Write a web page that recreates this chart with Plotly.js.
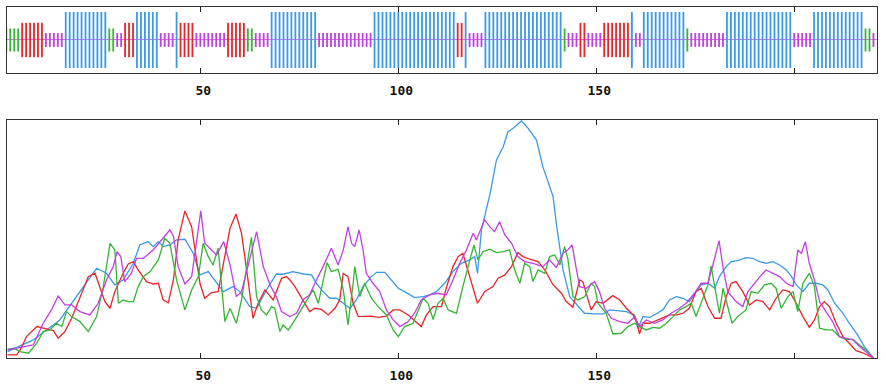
<!DOCTYPE html>
<html>
<head>
<meta charset="utf-8">
<script src="https://cdn.plot.ly/plotly-3.0.1.min.js"></script>
<style>html,body{margin:0;padding:0;background:#fff;}#chart{width:886px;height:391px;}</style>
</head>
<body>
<div id="chart"></div>
<script>
// Secondary structure per residue (runs): h = helix, e = extended strand, t = turn, c = coil
const ssRuns = [
  ['t',4],['e',6],['c',5],['h',11],['t',2],['c',2],['e',3],['h',6],['c',4],['h',1],
  ['e',4],['c',8],['e',5],['t',2],['c',4],['h',12],['c',14],['h',21],['e',2],['h',1],
  ['c',4],['h',20],['t',1],['c',3],['e',2],['c',4],['e',7],['h',1],['c',2],['h',11],
  ['t',1],['c',9],['h',17],['c',5],['h',13],['t',2],['c',1]
];
const stateOrder = ['h','e','t','c'];
const stateColors = {h:'#3a9ae6', e:'#e8252a', t:'#35b535', c:'#c23fe2'};
const stateHalfHeight = {h:0.85, e:0.52, t:0.35, c:0.21};

// Score profiles (x = residue, y = score)
const helixRes = [1.3,7.8,14.5,19.6,23.8,26.3,28.4,30.5,33.1,34.7,
  36.8,38.1,39.4,40.6,42.3,44.0,46.1,48.2,49.9,52.0,
  54.1,55.8,58.3,60.0,62.5,64.2,66.7,69.2,70.9,73.4,
  76.0,78.1,79.3,81.0,82.7,84.4,86.1,87.8,89.4,91.1,
  93.2,94.5,96.6,98.3,100.0,101.6,104.1,106.3,107.9,109.6,
  111.7,113.8,115.9,118.0,119.3,120.0,121.0,123.1,124.8,126.5,
  127.7,129.0,131.1,132.8,134.9,136.5,139.1,139.9,141.6,143.3,
  145.4,147.0,149.6,151.7,153.4,155.0,157.6,159.7,160.5,161.8,
  163.5,165.1,166.8,168.5,170.2,171.9,173.5,175.2,176.5,178.2,
  179.9,181.1,182.8,184.1,185.7,187.8,189.5,191.2,192.9,194.6,
  196.3,198.0,199.2,200.5,202.2,203.8,205.5,207.2,208.5,210.2,
  212.3,213.9,216.0,217.7,219.4,220];
const helixScore = [0.027,0.076,0.160,0.279,0.377,0.356,0.307,0.328,0.398,0.475,
  0.489,0.468,0.489,0.468,0.475,0.496,0.499,0.440,0.349,0.363,
  0.314,0.279,0.300,0.279,0.216,0.209,0.286,0.353,0.352,0.363,
  0.353,0.349,0.314,0.279,0.251,0.251,0.230,0.209,0.244,0.300,
  0.342,0.360,0.360,0.328,0.293,0.279,0.254,0.258,0.265,0.279,
  0.314,0.363,0.398,0.412,0.426,0.356,0.538,0.685,0.832,0.888,
  0.951,0.965,0.996,0.965,0.916,0.804,0.678,0.566,0.370,0.258,
  0.216,0.188,0.185,0.185,0.202,0.199,0.195,0.181,0.125,0.174,
  0.171,0.185,0.202,0.244,0.258,0.251,0.237,0.279,0.307,0.314,
  0.293,0.342,0.384,0.405,0.409,0.422,0.419,0.405,0.398,0.405,
  0.391,0.370,0.345,0.307,0.279,0.314,0.314,0.307,0.286,0.230,
  0.188,0.146,0.097,0.048,0.013,0.0];

const strandRes = [1.3,3.6,4.5,6.1,8.7,10.3,12.9,14.1,15.8,17.5,
  19.6,21.7,23.4,24.6,25.9,27.2,28.4,30.5,31.8,33.1,
  34.3,36.4,38.1,39.4,40.6,41.9,43.2,44.4,46.1,47.8,
  49.0,49.9,51.1,52.8,54.5,55.8,57.5,59.0,60.4,62.1,
  63.3,64.6,66.3,68.4,70.5,71.8,72.6,73.9,76.0,77.6,
  78.9,80.6,82.3,84.0,85.2,86.1,87.3,88.6,89.9,91.5,
  93.2,94.9,97.0,98.7,100.4,102.5,104.1,105.8,107.1,108.8,
  110.9,112.1,113.8,115.1,116.3,118.0,120.0,121.8,123.9,125.2,
  126.9,128.6,130.2,131.5,133.2,135.3,137.0,139.1,141.2,142.4,
  144.1,145.8,146.6,148.7,150.0,151.7,154.2,155.9,157.6,159.3,
  160.3,160.9,161.8,163.5,166.0,168.5,170.2,171.9,173.5,175.2,
  176.5,178.2,179.9,181.5,182.8,184.1,185.3,187.0,188.7,190.4,
  192.1,193.8,195.4,197.1,198.8,200.5,202.2,203.8,205.1,206.4,
  207.6,208.9,210.6,212.3,213.9,215.6,217.3,219.0,220];
const strandScore = [0.013,0.013,0.034,0.090,0.132,0.125,0.115,0.083,0.111,0.167,
  0.251,0.342,0.356,0.300,0.237,0.209,0.279,0.356,0.395,0.405,
  0.370,0.321,0.311,0.314,0.244,0.232,0.328,0.496,0.618,0.552,
  0.426,0.314,0.251,0.275,0.279,0.391,0.545,0.605,0.524,0.321,
  0.167,0.230,0.286,0.244,0.335,0.342,0.328,0.300,0.237,0.195,
  0.209,0.204,0.181,0.209,0.244,0.356,0.342,0.230,0.174,0.174,
  0.176,0.171,0.176,0.202,0.202,0.181,0.157,0.132,0.181,0.216,
  0.216,0.293,0.384,0.426,0.440,0.342,0.230,0.279,0.300,0.335,
  0.349,0.384,0.443,0.426,0.415,0.405,0.370,0.307,0.272,0.237,
  0.213,0.328,0.321,0.202,0.237,0.230,0.262,0.244,0.209,0.181,
  0.146,0.101,0.146,0.146,0.162,0.181,0.181,0.188,0.209,0.279,
  0.293,0.216,0.167,0.167,0.258,0.314,0.321,0.279,0.223,0.244,
  0.237,0.202,0.251,0.286,0.279,0.230,0.174,0.129,0.160,0.216,
  0.237,0.216,0.146,0.090,0.062,0.031,0.022,0.008,0.0];

const turnRes = [1.3,2.8,4.5,6.6,8.7,10.3,12.0,13.7,15.0,16.2,
  17.5,19.6,21.7,23.8,25.5,27.2,28.4,29.3,30.5,31.8,
  33.1,34.3,35.6,37.3,39.4,41.0,42.3,44.0,46.1,47.8,
  49.5,50.7,52.0,53.2,54.5,56.2,57.5,59.1,60.4,61.7,
  62.9,64.2,65.4,66.7,68.0,68.8,70.1,70.9,72.2,73.9,
  76.0,77.6,78.5,79.8,81.0,82.0,83.1,84.8,86.1,87.3,
  88.6,89.0,90.3,91.5,93.2,94.9,97.0,98.7,100.0,101.6,
  103.7,105.0,106.3,107.5,108.8,110.0,111.3,112.6,114.7,116.3,
  118.0,119.1,120.1,121.4,123.1,124.8,126.5,128.1,129.4,130.7,
  131.9,133.2,134.0,135.3,137.0,138.2,139.5,140.8,142.0,142.8,
  144.1,145.4,147.1,148.7,149.6,150.4,152.5,154.2,156.3,158.0,
  159.7,160.9,162.6,164.3,166.0,167.7,169.4,171.0,172.7,174.0,
  175.2,176.5,178.2,179.0,180.3,181.1,182.0,183.2,184.3,185.7,
  187.8,189.1,190.8,192.5,194.2,195.4,196.7,198.4,199.7,200.9,
  202.2,203.8,205.1,206.4,208.0,209.7,211.4,213.1,214.8,216.5,
  218.1,220];
const turnScore = [0.036,0.041,0.027,0.020,0.062,0.111,0.118,0.146,0.132,0.195,
  0.174,0.153,0.111,0.174,0.300,0.482,0.454,0.230,0.244,0.237,
  0.237,0.300,0.342,0.363,0.412,0.503,0.482,0.328,0.202,0.286,
  0.342,0.482,0.426,0.391,0.461,0.153,0.209,0.146,0.244,0.377,
  0.507,0.258,0.202,0.181,0.216,0.209,0.111,0.139,0.118,0.160,
  0.216,0.258,0.286,0.230,0.328,0.401,0.363,0.373,0.286,0.139,
  0.314,0.384,0.258,0.314,0.251,0.216,0.181,0.118,0.090,0.132,
  0.146,0.202,0.251,0.230,0.162,0.230,0.251,0.202,0.188,0.300,
  0.412,0.475,0.412,0.447,0.457,0.443,0.447,0.454,0.370,0.314,
  0.398,0.384,0.321,0.370,0.356,0.426,0.433,0.391,0.468,0.419,
  0.258,0.244,0.258,0.314,0.300,0.230,0.188,0.101,0.104,0.132,
  0.146,0.132,0.118,0.129,0.125,0.146,0.174,0.202,0.216,0.230,
  0.174,0.230,0.307,0.387,0.258,0.188,0.293,0.216,0.146,0.174,
  0.202,0.279,0.272,0.307,0.314,0.293,0.209,0.258,0.279,0.195,
  0.314,0.356,0.300,0.125,0.118,0.118,0.090,0.078,0.078,0.055,
  0.034,0.0];

const coilRes = [1.3,4.5,7.8,10.3,12.4,14.1,15.8,17.5,19.6,22.1,
  24.2,26.3,28.0,29.0,29.9,30.9,32.6,33.9,35.6,38.1,
  40.6,42.3,43.2,44.4,46.1,47.8,49.0,50.1,51.1,52.4,
  54.1,55.9,57.5,59.1,60.4,62.1,64.2,65.9,67.6,69.2,
  70.5,72.6,74.3,76.0,77.6,79.3,81.0,83.1,84.8,86.1,
  87.3,88.2,89.0,90.1,91.1,91.9,93.6,95.3,97.0,98.7,
  100.4,102.5,104.1,105.8,107.9,110.0,112.1,113.8,115.5,117.2,
  118.9,119.7,121.0,121.8,123.1,124.3,125.6,126.9,128.6,130.2,
  131.9,134.0,136.5,138.2,139.9,141.6,142.8,143.9,145.0,145.8,
  147.5,149.6,150.8,152.1,153.8,155.9,158.0,159.7,160.9,162.6,
  164.7,166.8,168.9,171.0,172.7,174.8,176.5,178.2,179.9,181.0,
  182.1,183.2,185.3,187.0,188.3,189.9,191.7,192.9,194.6,196.3,
  198.0,199.7,200.9,201.8,202.8,203.8,205.1,206.4,208.0,209.7,
  211.4,213.1,214.8,216.5,218.1,220];
const coilScore = [0.034,0.045,0.055,0.146,0.202,0.261,0.223,0.223,0.195,0.181,
  0.230,0.328,0.384,0.447,0.426,0.321,0.356,0.419,0.419,0.454,
  0.503,0.538,0.513,0.384,0.311,0.342,0.482,0.618,0.482,0.461,
  0.433,0.489,0.391,0.258,0.279,0.391,0.531,0.384,0.307,0.258,
  0.195,0.174,0.188,0.246,0.265,0.328,0.384,0.461,0.391,0.454,
  0.552,0.482,0.468,0.538,0.454,0.356,0.314,0.279,0.202,0.160,
  0.132,0.153,0.188,0.244,0.265,0.272,0.265,0.328,0.398,0.454,
  0.524,0.496,0.545,0.580,0.552,0.531,0.573,0.517,0.482,0.426,
  0.405,0.398,0.384,0.412,0.381,0.440,0.454,0.475,0.370,0.300,
  0.293,0.321,0.279,0.209,0.167,0.153,0.146,0.174,0.132,0.160,
  0.146,0.160,0.188,0.209,0.230,0.272,0.314,0.314,0.419,0.493,
  0.370,0.279,0.237,0.216,0.279,0.314,0.349,0.370,0.356,0.342,
  0.314,0.300,0.454,0.440,0.489,0.398,0.328,0.237,0.195,0.153,
  0.090,0.083,0.076,0.048,0.027,0.0];

const tickValues = [50, 100, 150, 200];
const tickLabels = ['50', '100', '150', ''];

// expand runs into per-residue states
const states = [];
ssRuns.forEach(([s, n]) => { for (let i = 0; i < n; i++) states.push(s); });

const traces = [];
stateOrder.forEach(s => {
  const xs = [], ys = [];
  states.forEach((st, i) => {
    if (st === s) {
      const r = i + 1, hh = stateHalfHeight[s];
      xs.push(r, r, null); ys.push(-hh, hh, null);
    }
  });
  traces.push({type:'scatter', mode:'lines', x:xs, y:ys, connectgaps:false,
    line:{color:stateColors[s], width:1.8}, xaxis:'x', yaxis:'y', hoverinfo:'skip'});
});

const profiles = [
  [helixRes, helixScore, stateColors.h],
  [strandRes, strandScore, stateColors.e],
  [turnRes, turnScore, stateColors.t],
  [coilRes, coilScore, stateColors.c]
];
profiles.forEach(([xr, ys, col]) => {
  traces.push({type:'scatter', mode:'lines', x:xr, y:ys, line:{color:col, width:1.3},
    xaxis:'x2', yaxis:'y2', hoverinfo:'skip'});
});

const tickFont = {family:'"DejaVu Sans Mono", "Liberation Mono", monospace', size:13, color:'#111', weight:'bold'};
const xCommon = {
  range:[1.17, 220.9], tickmode:'array', tickvals:tickValues, ticktext:tickLabels,
  ticks:'inside', ticklen:5, tickwidth:1, tickcolor:'#222',
  showline:true, linecolor:'#333', linewidth:1, mirror:'ticks',
  showgrid:false, zeroline:false, tickfont:tickFont, ticklabelshift:3, ticklabelstandoff:5
};
const layout = {
  width:886, height:391,
  margin:{l:7, r:9, t:7, b:33},
  paper_bgcolor:'#fff', plot_bgcolor:'#fff',
  showlegend:false,
  xaxis:Object.assign({}, xCommon, {anchor:'y'}),
  xaxis2:Object.assign({}, xCommon, {anchor:'y2'}),
  yaxis:{domain:[0.812, 1], range:[-1, 1], showticklabels:false, ticks:'', showgrid:false,
    zeroline:true, zerolinecolor:'#e26cf0', zerolinewidth:1,
    showline:true, linecolor:'#333', linewidth:1, mirror:true},
  yaxis2:{domain:[0, 0.678], range:[0, 1], showticklabels:false, ticks:'', showgrid:false,
    zeroline:false, showline:true, linecolor:'#333', linewidth:1, mirror:true}
};
Plotly.newPlot('chart', traces, layout, {staticPlot:true, displayModeBar:false});
</script>
</body>
</html>
